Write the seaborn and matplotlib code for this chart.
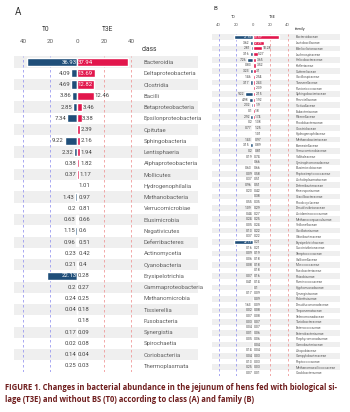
import numpy as np
import pandas as pd
import matplotlib
matplotlib.use("Agg")
import matplotlib.pyplot as plt
import seaborn as sns

# ---------------- data ----------------
classes = ["Bacteroidia", "Deltaproteobacteria", "Clostridia", "Bacilli", "Betaproteobacteria",
           "Epsilonproteobacteria", "Opitutae", "Sphingobacteria", "Lentisphaeria",
           "Alphaproteobacteria", "Mollicutes", "Hydrogenophilalia", "Methanobacteria",
           "Verrucomicrobiae", "Elusimicrobia", "Negativicutes", "Deferribacteres",
           "Actinomycetia", "Cyanobacteria", "Erysipelotrichia", "Gammaproteobacteria",
           "Methanomicrobia", "Tissierellia", "Fusobacteria", "Synergistia", "Spirochaetia",
           "Coriobacteriia", "Thermoplasmata"]
class_t0 = [36.93, 4.09, 4.69, 3.86, 2.85, 7.34, np.nan, 9.22, 2.32, 0.38, 0.37, np.nan, 1.43,
            0.2, 0.63, 1.15, 0.96, 0.23, 0.21, 22.13, 0.2, 0.24, 0.04, np.nan, 0.17, 0.02,
            0.14, 0.25]
class_t3e = [37.94, 13.69, 12.82, 12.46, 3.46, 3.38, 2.39, 2.16, 1.94, 1.82, 1.17, 1.01, 0.97,
             0.81, 0.66, 0.6, 0.51, 0.42, 0.4, 0.28, 0.27, 0.25, 0.18, 0.18, 0.09, 0.08,
             0.04, 0.03]

families = ["Bacteroidaceae", "Lactobacillaceae", "Bdellovibrionaceae", "Lachnospiraceae",
            "Helicobacteraceae", "Kofleriaceae", "Sutterellaceae", "Oscillospiraceae",
            "Tannerellaceae", "Puniceicoccaceae", "Sphingobacteriaceae", "Prevotellaceae",
            "Victivallaceae", "Eubacteriaceae", "Rikenellaceae", "Rhodobacteraceae",
            "Clostridiaceae", "Hydrogenophilaceae", "Methanobacteriaceae", "Barnesiellaceae",
            "Verrucomicrobiaceae", "Vallitaleaceae", "Syntrophomonadaceae", "Elusimicrobiaceae",
            "Peptostreptococcaceae", "Acholeplasmataceae", "Deferribacteraceae",
            "Kineosporiaceae", "Gracilibacteraceae", "Rhodocyclaceae", "Desulfovibrionaceae",
            "Acidaminococcaceae", "Methanocorpusculaceae", "Veillonellaceae", "Oscillatoriaceae",
            "Odoribacteraceae", "Erysipelotrichaceae", "Succinivibrionaceae", "Streptococcaceae",
            "Gallionellaceae", "Micrococcaceae", "Fusobacteriaceae", "Rhizobiaceae",
            "Ruminococcaceae", "Hyphomonadaceae", "Synergistaceae", "Rickettsiaceae",
            "Desulfuromonadaceae", "Treponemataceae", "Selenomonadaceae", "Turicibacteraceae",
            "Enterococcaceae", "Enterobacteriaceae", "Porphyromonadaceae", "Carnobacteriaceae",
            "Atopobiaceae", "Campylobacteraceae", "Peptococcaceae", "Methanomassiliicoccaceae",
            "Oxalobacteraceae"]
family_t0 = [21.55, 3.62, 2.81, 3.16, 7.26, 0.83, 3.23, 1.46, 3.17, np.nan, 9.22, 4.98,
             2.32, 0.1, 2.92, 0.20, 0.77, np.nan, 1.43, 3.15, 0.2, 0.19, np.nan, 0.63,
             0.09, 0.37, 0.96, 0.23, np.nan, 0.55, 1.09, 0.44, 0.24, 0.05, 0.13, 0.37,
             22.13, 0.16, 0.09, 0.06, 0.08, np.nan, 0.07, 0.41, np.nan, 0.17, np.nan,
             1.63, 0.02, 0.07, 0.03, 0.04, 0.01, 0.05, np.nan, 0.14, 0.04, 0.13, 0.25, 0.07]
family_t3e = [30.59, 12.26, 10.28, 5.27, 3.65, 3.52, 3.1, 2.54, 2.43, 2.39, 2.15, 1.92,
              1.9, 1.8, 1.74, 1.38, 1.25, 1.01, 0.97, 0.89, 0.81, 0.74, 0.66, 0.66,
              0.58, 0.51, 0.51, 0.42, 0.38, 0.35, 0.29, 0.27, 0.25, 0.24, 0.22, 0.22,
              0.21, 0.21, 0.19, 0.18, 0.18, 0.18, 0.16, 0.14, 0.1, 0.09, 0.09,
              0.09, 0.08, 0.08, 0.07, 0.07, 0.06, 0.06, 0.04, 0.04, 0.03, 0.03, 0.03, 0.01]

axis_ticks = [-40, -20, 0, 20, 40]
group_labels = ["T0", "T3E"]
caption_lines = ["FIGURE 1. Changes in bacterial abundance in the jejunum of hens fed with biological si-",
                 "lage (T3E) and without BS (T0) according to class (A) and family (B)"]

# ---------------- style ----------------
sns.set_theme(style="white")
plt.rcParams["font.family"] = ["Roboto", "DejaVu Sans"]
BLUE = "#1f4e79"
RED = "#e2164c"
BAND = "#efefef"
GREY = "#606060"

W, H, DPI = 350, 412, 100
fig = plt.figure(figsize=(W / DPI, H / DPI), dpi=DPI)


def px_axes(left, top, right, bottom):
    return fig.add_axes([left / W, 1 - bottom / H, (right - left) / W, (bottom - top) / H])


def draw_panel(ax, cats, t0, t3e, fs, band_right_frac, lab_pad, header_y, tick_fs, hdr_fs,
               hdr_y, tick_pad, header_txt):
    df = pd.DataFrame({"cat": cats, "T0": -np.array(t0, float), "T3E": np.array(t3e, float)})
    n = len(cats)
    for i in range(0, n, 2):
        ax.axhspan(i - 0.5, i + 0.5, xmin=0, xmax=band_right_frac, color=BAND, lw=0,
                   zorder=0, clip_on=False)
    sns.barplot(data=df, y="cat", x="T0", orient="h", color=BLUE, width=0.74,
                ax=ax, zorder=3, saturation=1, order=cats)
    sns.barplot(data=df, y="cat", x="T3E", orient="h", color=RED, width=0.74,
                ax=ax, zorder=3, saturation=1, order=cats)
    ax.set_xlim(-47, 47)
    ax.set_ylim(n - 0.5, -0.5)
    for x, c in [(-40, "#9a9af0"), (-20, "#9a9af0"), (20, "#f09a9a"), (40, "#f09a9a")]:
        ax.axvline(x, color=c, lw=0.6, ls=(0, (3, 3)), zorder=1)
    for s in ax.spines.values():
        s.set_visible(False)
    ax.set_xlabel("")
    ax.set_ylabel("")
    ax.xaxis.tick_top()
    ax.set_xticks(axis_ticks)
    ax.set_xticklabels([str(abs(t)) for t in axis_ticks], fontsize=tick_fs, color=GREY)
    ax.tick_params(axis="x", length=0, pad=tick_pad)
    ax.yaxis.tick_right()
    ax.set_yticks(range(n))
    ax.set_yticklabels(cats, fontsize=fs, color=GREY)
    ax.tick_params(axis="y", length=0, pad=lab_pad)
    ax.text(-23, hdr_y, group_labels[0], transform=ax.get_xaxis_transform(), ha="center",
            va="center", fontsize=hdr_fs, color="#333333", clip_on=False)
    ax.text(23, hdr_y, group_labels[1], transform=ax.get_xaxis_transform(), ha="center",
            va="center", fontsize=hdr_fs, color="#333333", clip_on=False)
    ax.text(1.01, header_y, header_txt, transform=ax.transAxes, ha="left", va="center",
            fontsize=hdr_fs, color="#333333", clip_on=False)
    fig.canvas.draw()
    r = fig.canvas.get_renderer()
    tr = ax.transData
    unit_px = abs(tr.transform((1, 0))[0] - tr.transform((0, 0))[0])
    for i in range(n):
        for val, side in [(t0[i], -1), (t3e[i], 1)]:
            if val is None or np.isnan(val):
                continue
            s = f"{val:g}"
            t = ax.text(0, i, s, fontsize=fs, va="center", zorder=5)
            tw = t.get_window_extent(r).width
            bar_px = val * unit_px
            off = 0.6 / unit_px
            t.set_ha("right" if side < 0 else "left")
            if bar_px >= tw + 2.1:
                t.set_color("white")
                t.set_x(side * off)
            else:
                t.set_color("#444444")
                t.set_x(side * (val + off))


rowA = (366 - 62) / 27
axA = px_axes(77 - 47 * 1.35, 62 - rowA / 2, 77 + 47 * 1.35, 366 + rowA / 2)
draw_panel(axA, classes, class_t0, class_t3e, fs=4.3, band_right_frac=1.45, lab_pad=2.5,
           header_y=1.022, tick_fs=4.5, hdr_fs=4.8, hdr_y=1.085, tick_pad=9,
           header_txt="class")

rowB = (373 - 37) / 59
axB = px_axes(253 - 47 * 0.8625, 37 - rowB / 2, 253 + 47 * 0.8625, 373 + rowB / 2)
draw_panel(axB, families, family_t0, family_t3e, fs=2.4, band_right_frac=1.57, lab_pad=1.5,
           header_y=1.014, tick_fs=3.0, hdr_fs=2.9, hdr_y=1.05, tick_pad=5.5,
           header_txt="family")

fig.text(15 / W, 1 - 12 / H, "A", fontsize=7, color="#333333", va="center", ha="left")
fig.text(213 / W, 1 - 8 / H, "B", fontsize=4.5, color="#333333", va="center", ha="left")

cap = []
for k, line in enumerate(caption_lines):
    t = fig.text(5 / W, 1 - (387 + 12 * k) / H, line, fontsize=5.2, fontweight="bold",
                 color="#6e1c1c", va="center", ha="left", family=["Open Sans", "DejaVu Sans"])
    cap.append(t)
fig.canvas.draw()
r = fig.canvas.get_renderer()
w0 = cap[0].get_window_extent(r).width
scale = 332 / w0
for t in cap:
    t.set_fontsize(5.2 * scale)

fig.savefig("out.png", dpi=DPI)
